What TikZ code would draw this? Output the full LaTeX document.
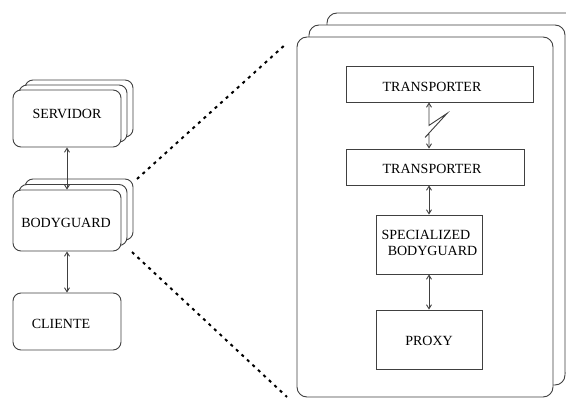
\documentclass[tikz,border=0pt]{standalone}
\usepackage{fontspec}
\setmainfont{Liberation Serif}
\usetikzlibrary{arrows.meta,calc}
\tikzset{
  ink/.style={draw=black!75, line width=0.9pt},
  card/.style={ink, fill=white, rounded corners=8pt, minimum width=108pt, inner sep=0pt},
  panel/.style={ink, fill=white, rounded corners=10pt, minimum width=256pt, minimum height=360pt, inner sep=0pt},
  plainbox/.style={ink, fill=white, inner sep=0pt},
  lbl/.style={font=\fontsize{14}{16}\selectfont, inner sep=0pt},
  link/.style={ink, line join=miter, {Straight Barb[length=4pt,width=5pt]}-{Straight Barb[length=4pt,width=5pt]}},
  zoomline/.style={line width=2pt, dash pattern=on 3pt off 4.5pt},
}
\begin{document}
\begin{tikzpicture}[x=1pt,y=-1pt]
\useasboundingbox (0,0) rectangle (566,399);
\clip (0,0) rectangle (566,399);

% server stack
\node[card, minimum height=57pt] (srv3) at (79,108.5) {};
\node[card, minimum height=57pt] (srv2) at (73,113.5) {};
\node[card, minimum height=57pt] (srv) at (67,118.5) {};
\node[lbl] (srvtext) at (67,114) {SERVIDOR};

% bodyguard stack
\node[card, minimum height=61pt] (bg3) at (79,209.5) {};
\node[card, minimum height=61pt] (bg2) at (73,215) {};
\node[card, minimum height=61pt] (bg) at (67,220.5) {};
\node[lbl] (bgtext) at (66,222.5) {BODYGUARD};

% client
\node[card, minimum height=57pt] (cli) at (67,321.5) {};
\node[lbl] (clitext) at (61,324) {CLIENTE};

\draw[link] (srv.south) -- (bg.north);
\draw[link] (bg.south) -- (cli.north);

% enlarged bodyguard
\node[panel] (pan3) at (455,193) {};
\node[panel] (pan2) at (437,205) {};
\node[panel] (pan) at (425,217) {};

\node[plainbox, minimum width=187pt, minimum height=36pt] (tr1) at (439.5,84) {};
\node[lbl] (tr1text) at (432,87) {TRANSPORTER};
\node[plainbox, minimum width=178pt, minimum height=36pt] (tr2) at (435,167) {};
\node[lbl] (tr2text) at (432,169) {TRANSPORTER};
\node[plainbox, minimum width=106pt, minimum height=59pt] (spec) at (429,244.5) {};
\node[lbl] (spectext1) at (426,235) {SPECIALIZED};
\node[lbl] (spectext2) at (432.5,250.5) {BODYGUARD};
\node[plainbox, minimum width=106pt, minimum height=59pt] (proxy) at (429,339.5) {};
\node[lbl] (proxytext) at (429,341) {PROXY};

% network link between the transporters
\draw[link] (spec.north |- tr1.south) -- ++(0,23) -- ++(18,-12) -- ++(-22,24) -- ++(4,-4) -- (spec.north |- tr2.north);
\draw[link] (spec.north |- tr2.south) -- (spec.north);
\draw[link] (spec.south) -- (proxy.north);

% zoom guides
\coordinate (zA) at (137,179);
\coordinate (zB) at (287,43);
\coordinate (zC) at (132,252);
\coordinate (zD) at (287,397);
\draw[zoomline] (zA) -- (zB);
\draw[zoomline] (zC) -- (zD);
\end{tikzpicture}
\end{document}
